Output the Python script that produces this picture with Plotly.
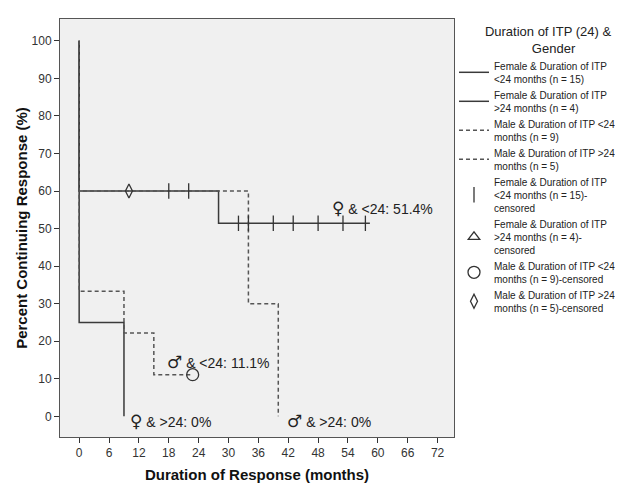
import plotly.graph_objects as go

# ---- data ----
f_lt24_t = [0, 0, 28, 58.4]
f_lt24_s = [100, 60, 51.4, 51.4]
f_gt24_t = [0, 0, 9]
f_gt24_s = [100, 25, 0]
m_lt24_t = [0, 0, 9, 15, 22.8]
m_lt24_s = [100, 33.3, 22.2, 11.1, 11.1]
m_gt24_t = [0, 0, 34, 40]
m_gt24_s = [100, 60, 30, 0]

f_lt24_cens_t = [18, 22, 32, 34, 39, 43, 48, 53, 57.5]
f_lt24_cens_s = [60, 60, 51.4, 51.4, 51.4, 51.4, 51.4, 51.4, 51.4]
f_gt24_cens_t = [None]   # no censored cases in this group
f_gt24_cens_s = [None]
m_lt24_cens_t = [22.8]
m_lt24_cens_s = [11.1]
m_gt24_cens_t = [10]
m_gt24_cens_s = [60]

x_ticks = [0, 6, 12, 18, 24, 30, 36, 42, 48, 54, 60, 66, 72]
y_ticks = [0, 10, 20, 30, 40, 50, 60, 70, 80, 90, 100]

line_names = [
    "Female & Duration of ITP<br><24 months (n = 15)",
    "Female & Duration of ITP<br>>24 months (n = 4)",
    "Male & Duration of ITP <24<br>months (n = 9)",
    "Male & Duration of ITP >24<br>months (n = 5)",
]
cens_names = [
    "Female & Duration of ITP<br><24 months (n = 15)-<br>censored",
    "Female & Duration of ITP<br>>24 months (n = 4)-<br>censored",
    "Male & Duration of ITP <24<br>months (n = 9)-censored",
    "Male & Duration of ITP >24<br>months (n = 5)-censored",
]

label_sym = ["\u2640", "\u2642", "\u2640", "\u2642"]
label_txt = [" & <24: 51.4%", " & <24: 11.1%", " & >24: 0%", " & >24: 0%"]
label_x = [50.3, 17.2, 9.8, 41.4]
label_y = [55.5, 14.6, -1.2, -1.2]

FONT = "Arial, Liberation Sans, sans-serif"
fig = go.Figure()

solid = dict(color="#3a3a3a", width=1.5, shape="hv")
dashed = dict(color="#555555", width=1.5, shape="hv", dash="4px,3px")

for t, s, name, ln in [
    (f_lt24_t, f_lt24_s, line_names[0], solid),
    (f_gt24_t, f_gt24_s, line_names[1], solid),
    (m_lt24_t, m_lt24_s, line_names[2], dashed),
    (m_gt24_t, m_gt24_s, line_names[3], dashed),
]:
    fig.add_trace(go.Scatter(x=t, y=s, mode="lines", name=name, line=ln))

fig.add_trace(go.Scatter(x=f_lt24_cens_t, y=f_lt24_cens_s, mode="markers", name=cens_names[0],
                         marker=dict(symbol="line-ns", size=11, line=dict(color="#333333", width=1.3))))
fig.add_trace(go.Scatter(x=f_gt24_cens_t, y=f_gt24_cens_s, mode="markers", name=cens_names[1],
                         marker=dict(symbol="triangle-up-open", size=10, color="#333333", line=dict(width=1.3))))
fig.add_trace(go.Scatter(x=m_lt24_cens_t, y=m_lt24_cens_s, mode="markers", name=cens_names[2],
                         marker=dict(symbol="circle-open", size=12, color="#333333", line=dict(width=1.3))))
fig.add_trace(go.Scatter(x=m_gt24_cens_t, y=m_gt24_cens_s, mode="markers", name=cens_names[3],
                         marker=dict(symbol="diamond-tall-open", size=10, color="#333333", line=dict(width=1.3))))

for sym, txt, x, y in zip(label_sym, label_txt, label_x, label_y):
    fig.add_annotation(
        x=x, y=y, showarrow=False, xanchor="left", yanchor="middle",
        text=f"<span style='font-family:DejaVu Sans;font-size:17px'>{sym}</span>{txt}",
        font=dict(family=FONT, size=14, color="#222222"))

fig.update_layout(
    width=623, height=483,
    margin=dict(l=52, r=154, t=10, b=50),
    paper_bgcolor="white", plot_bgcolor="#f0f0f0",
    font=dict(family=FONT, size=10, color="#333333"),
    showlegend=True,
    legend=dict(
        x=1.0, y=1.0, xanchor="left", yanchor="top",
        bgcolor="rgba(0,0,0,0)",
        font=dict(family=FONT, size=10, color="#222222"),
        title=dict(text="        Duration of ITP (24) &<br>                     Gender", side="top",
                   font=dict(family=FONT, size=13, color="#222222")),
        itemwidth=30, tracegroupgap=0,
    ),
)
fig.update_xaxes(range=[-3.85, 75.3], tickvals=x_ticks, ticktext=[str(v) for v in x_ticks],
                 showgrid=False, zeroline=False, ticks="outside", ticklen=5, tickcolor="#333",
                 showline=True, linecolor="#555555", linewidth=1, mirror=True,
                 tickfont=dict(size=12, color="#333333"),
                 title=dict(text="<b>Duration of Response (months)</b>", font=dict(size=15, color="#111111"), standoff=10))
fig.update_yaxes(range=[-5.5, 105.8], tickvals=y_ticks, ticktext=[str(v) for v in y_ticks],
                 showgrid=False, zeroline=False, ticks="outside", ticklen=5, tickcolor="#333",
                 showline=True, linecolor="#555555", linewidth=1, mirror=True,
                 tickfont=dict(size=12, color="#333333"),
                 title=dict(text="<b>Percent Continuing Response (%)</b>", font=dict(size=15, color="#111111"), standoff=0))

fig.write_html("out.html")
